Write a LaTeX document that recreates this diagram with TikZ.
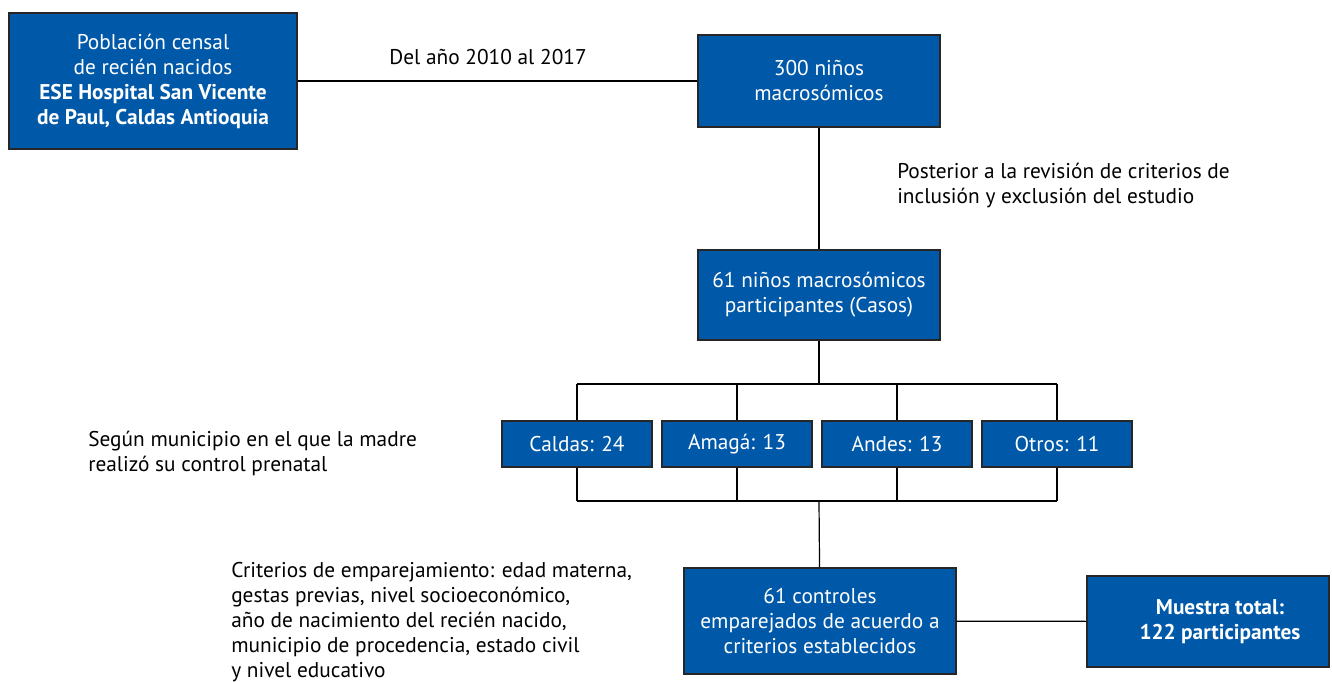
\documentclass[tikz,border=0pt]{standalone}
\usepackage{fontspec}
\setmainfont{PT Sans}
\usepackage{xcolor}
\usepackage{tikz}
\definecolor{boxblue}{HTML}{0059A8}

\begin{document}
\begin{tikzpicture}[x=0.75pt,y=0.75pt,yscale=-1,xscale=1,
  bluebox/.style={draw=black!85,line width=0.9pt,fill=boxblue,text=white,align=center,inner sep=0pt,font=\fontsize{16}{18.75}\selectfont},
  note/.style={inner sep=0.75pt,align=left,font=\fontsize{16}{18.75}\selectfont},
  link/.style={line width=0.9pt}]
\useasboundingbox (0,0) rectangle (1332,682);

%Boxes
\node [bluebox,minimum width=216pt,minimum height=102pt] (poblacion) at (153,81) {Población censal\\de recién nacidos\\\textbf{ESE Hospital San Vicente}\\\textbf{de Paul, Caldas Antioquia}};
\node [bluebox,minimum width=181.5pt,minimum height=69pt] (ninos300) at (819,81) {300 niños\\macrosómicos};
\node [bluebox,minimum width=181.5pt,minimum height=67.5pt] (ninos61) at (819,295) {61 niños macrosómicos\\participantes (Casos)};
\node [bluebox,minimum width=112.5pt,minimum height=34.5pt] (caldas) at (577,444) {Caldas: 24};
\node [bluebox,minimum width=112.5pt,minimum height=34.5pt] (amaga) at (737,444) {Amagá: 13};
\node [bluebox,minimum width=112.5pt,minimum height=34.5pt] (andes) at (897,444) {Andes: 13};
\node [bluebox,minimum width=112.5pt,minimum height=34.5pt] (otros) at (1057,444) {Otros: 11};
\node [bluebox,minimum width=204pt,minimum height=79.5pt] (controles) at (820,621) {61 controles\\emparejados de acuerdo a\\criterios establecidos};
\node [bluebox,minimum width=181.5pt,minimum height=68.25pt] (muestra) at (1208,621.5) {\hspace*{18pt}\textbf{Muestra total:}\\\hspace*{18pt}\textbf{122 participantes}};

%Bus points
\coordinate (busTop) at (819,384);
\coordinate (busBot) at (819,501);

%Connectors
\draw [link] (poblacion) -- (ninos300);
\draw [link] (ninos300) -- (ninos61);
\draw [link] (ninos61) -- (busTop);
\draw [link] (caldas.north |- busTop) -- (otros.north |- busTop);
\draw [link] (caldas.south |- busBot) -- (otros.south |- busBot);
\foreach \m in {caldas,amaga,andes,otros} {
  \draw [link] (\m.north) -- (\m.north |- busTop);
  \draw [link] (\m.south) -- (\m.south |- busBot);
}
\draw [link] (busBot) -- (controles);
\draw [link] (controles) -- (muestra);

% Text Node
\node [note,anchor=center] (periodo) at (488,57) {Del año 2010 al 2017};
% Text Node
\node [note,anchor=west] (revision) at (896,186) {Posterior a la revisión de criterios de\\inclusión y exclusión del estudio};
% Text Node
\node [note,anchor=west] (municipio) at (87,453) {Según municipio en el que la madre\\realizó su control prenatal};
% Text Node
\node [note,anchor=north west] (criterios) at (230,561) {Criterios de emparejamiento: edad materna,\\gestas previas, nivel socioeconómico,\\año de nacimiento del recién nacido,\\municipio de procedencia, estado civil\\y nivel educativo};
\end{tikzpicture}
\end{document}
